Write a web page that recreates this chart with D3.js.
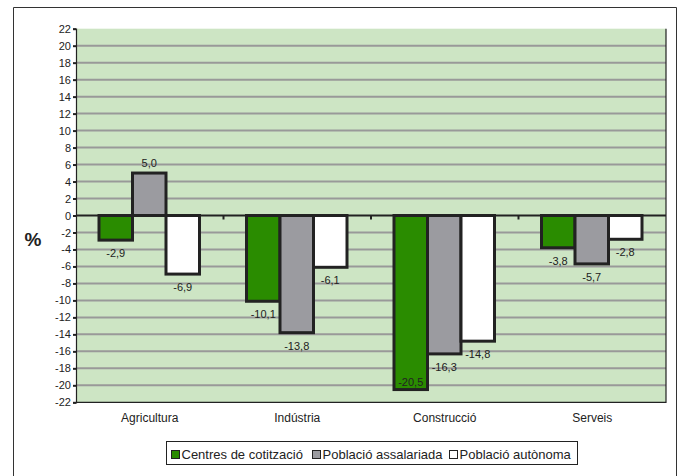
<!DOCTYPE html>
<html>
<head>
<meta charset="utf-8">
<script src="https://cdn.jsdelivr.net/npm/d3@7"></script>
<style>
  body { margin: 0; background: #fff; }
  text { font-family: "Liberation Sans", Arial, sans-serif; fill: #222; }
</style>
</head>
<body>
<div id="chart"></div>
<script>
"use strict";

// data
const categories = ["Agricultura", "Indústria", "Construcció", "Serveis"];
const seriesNames = ["Centres de cotització", "Població assalariada", "Població autònoma"];
const centres = [-2.9, -10.1, -20.5, -3.8];
const assalariada = [5.0, -13.8, -16.3, -5.7];
const autonoma = [-6.9, -6.1, -14.8, -2.8];
const yTicks = [22, 20, 18, 16, 14, 12, 10, 8, 6, 4, 2, 0, -2, -4, -6, -8, -10, -12, -14, -16, -18, -20, -22];

const colors = ["#2a8c00", "#9b9ba0", "#ffffff"];
const width = 679, height = 476;
const plot = {left: 76, right: 666, top: 28.7, bottom: 402.3};

const svg = d3.select("#chart").append("svg")
  .attr("width", width).attr("height", height);

// outer frame
svg.append("path")
  .attr("d", "M13.5,480 V7.5 H676.5 V480")
  .attr("fill", "none").attr("stroke", "#333").attr("stroke-width", 1);

const x0 = d3.scaleBand().domain(categories).range([plot.left, plot.right]).paddingInner(0).paddingOuter(0);
const x1 = d3.scaleBand().domain(seriesNames).range([23, x0.bandwidth() - 24]).padding(0);
const y = d3.scaleLinear().domain([-22, 22]).range([plot.bottom, plot.top]);

// plot background
svg.append("rect")
  .attr("x", plot.left).attr("y", plot.top)
  .attr("width", plot.right - plot.left).attr("height", plot.bottom - plot.top)
  .attr("fill", "#cde5c4");

// gridlines
svg.append("g").selectAll("line")
  .data(yTicks.filter(d => d !== 0 && d !== -22 && d !== 22))
  .join("line")
  .attr("x1", plot.left).attr("x2", plot.right)
  .attr("y1", d => y(d)).attr("y2", d => y(d))
  .attr("stroke", "#999").attr("stroke-width", 2);

// plot border right/bottom
svg.append("path")
  .attr("d", `M${plot.right},${plot.top} V${plot.bottom} H${plot.left}`)
  .attr("fill", "none").attr("stroke", "#222").attr("stroke-width", 1.2);

// y axis
const yAxis = svg.append("g")
  .attr("transform", `translate(${plot.left},0)`)
  .call(d3.axisLeft(y).tickValues(yTicks).tickSize(3).tickPadding(2)
    .tickFormat(d => d3.format("d")(d).replace("−", "-")));
yAxis.select(".domain").attr("stroke", "#222").attr("stroke-width", 1.2);
yAxis.selectAll(".tick line").attr("stroke", "#222").attr("stroke-width", 2);
yAxis.selectAll("text").attr("font-size", 11).attr("fill", "#222")
  .style("font-family", "'Liberation Sans', Arial, sans-serif");

svg.append("text")
  .attr("x", 33).attr("y", 246)
  .attr("text-anchor", "middle")
  .attr("font-size", 19).attr("font-weight", "bold")
  .text("%");

// bars
const rows = categories.map((c, i) => ({cat: c, vals: [centres[i], assalariada[i], autonoma[i]]}));

const groups = svg.append("g").selectAll("g")
  .data(rows).join("g")
  .attr("transform", d => `translate(${x0(d.cat)},0)`);

groups.selectAll("rect")
  .data(d => d.vals.map((v, j) => ({v, s: seriesNames[j], j})))
  .join("rect")
  .attr("x", d => x1(d.s))
  .attr("y", d => y(Math.max(0, d.v)))
  .attr("width", x1.bandwidth())
  .attr("height", d => Math.abs(y(d.v) - y(0)))
  .attr("fill", d => colors[d.j])
  .attr("stroke", "#222").attr("stroke-width", 3);

// zero line
svg.append("line")
  .attr("x1", plot.left).attr("x2", plot.right)
  .attr("y1", y(0)).attr("y2", y(0))
  .attr("stroke", "#222").attr("stroke-width", 2);

// x ticks at category boundaries
svg.append("g").selectAll("line")
  .data(categories.slice(1))
  .join("line")
  .attr("x1", d => x0(d)).attr("x2", d => x0(d))
  .attr("y1", y(0)).attr("y2", y(0) + 4)
  .attr("stroke", "#222").attr("stroke-width", 2);

// value labels
const fmt = v => d3.format(".1f")(v).replace("−", "-").replace(".", ",");
groups.selectAll("text.val")
  .data(d => d.vals.map((v, j) => ({v, s: seriesNames[j], j})))
  .join("text")
  .attr("class", "val")
  .attr("x", d => x1(d.s) + x1.bandwidth() / 2)
  .attr("y", d => {
    if (d.v >= 0) return y(d.v) - 6;
    const yy = y(d.v) + 17;
    return yy > plot.bottom ? y(d.v) - 4 : yy;
  })
  .attr("text-anchor", "middle")
  .attr("font-size", 11)
  .text(d => fmt(d.v));

// category labels
svg.append("g").selectAll("text")
  .data(categories).join("text")
  .attr("x", d => x0(d) + x0.bandwidth() / 2)
  .attr("y", 422)
  .attr("text-anchor", "middle")
  .attr("font-size", 12)
  .text(d => d);

// legend
const legend = svg.append("g");
legend.append("rect")
  .attr("x", 166.5).attr("y", 441.5).attr("width", 411).attr("height", 23)
  .attr("fill", "#fff").attr("stroke", "#222").attr("stroke-width", 1);
const legendX = [171.5, 312.5, 449.5];
seriesNames.forEach((s, i) => {
  legend.append("rect")
    .attr("x", legendX[i]).attr("y", 450.5).attr("width", 8).attr("height", 8)
    .attr("fill", colors[i]).attr("stroke", "#222").attr("stroke-width", 1);
  legend.append("text")
    .attr("x", legendX[i] + 10).attr("y", 458.5)
    .attr("font-size", 13)
    .text(s);
});
</script>
</body>
</html>
